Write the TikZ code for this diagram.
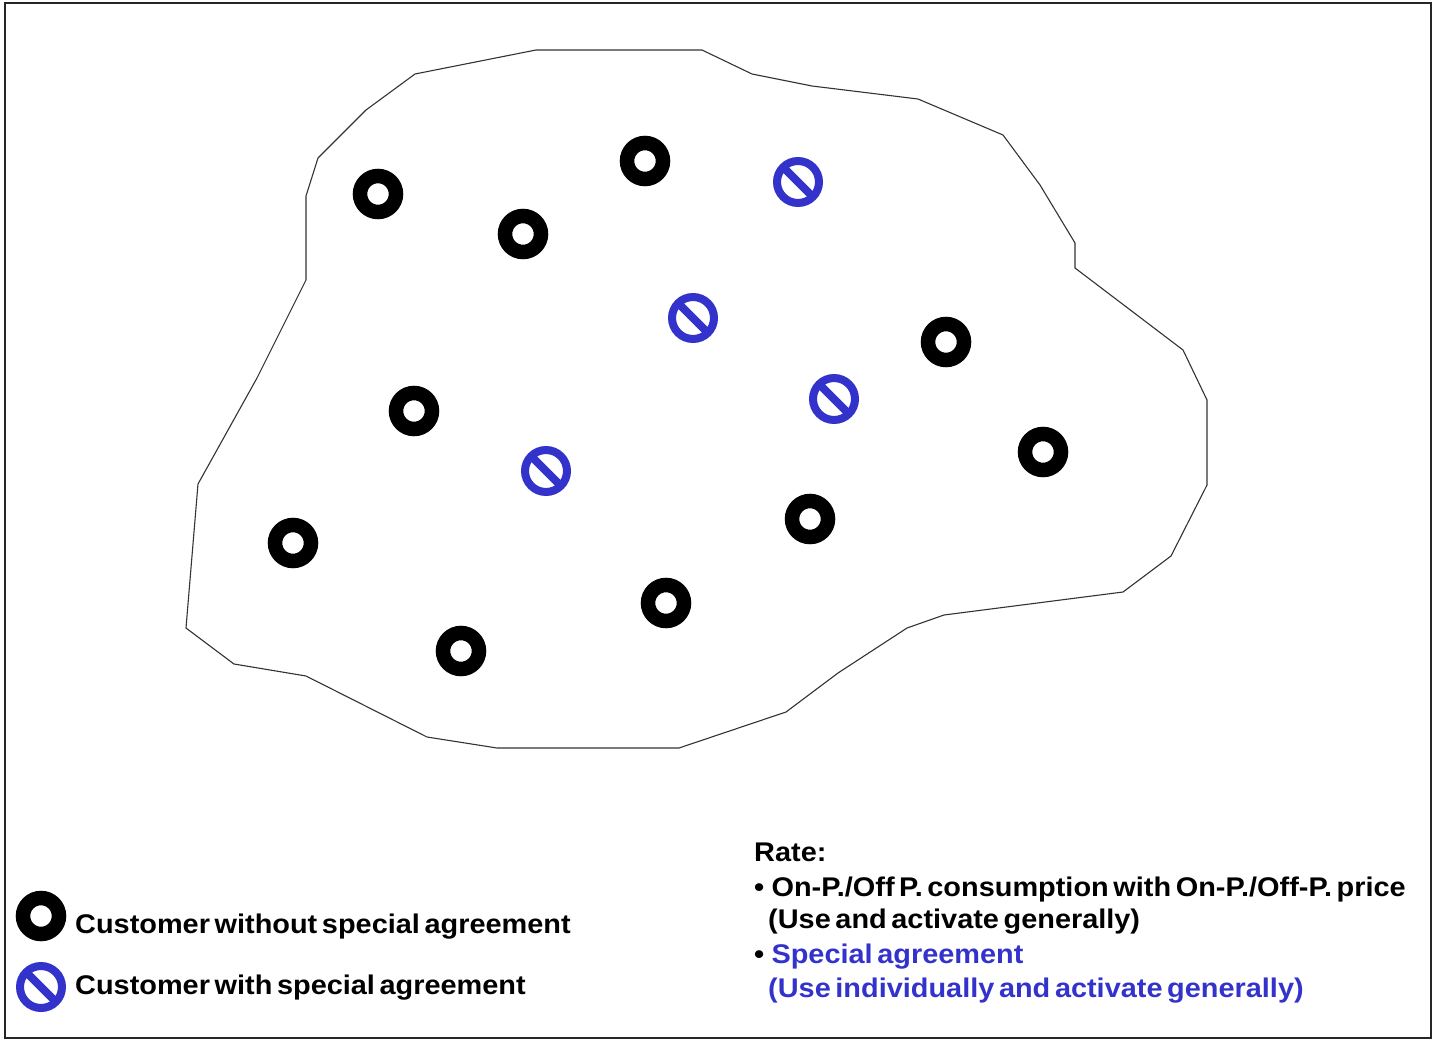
\documentclass[tikz,border=0pt]{standalone}
\usepackage{fontspec}
\setmainfont{Liberation Sans}
\definecolor{agblue}{RGB}{51,51,204}
\newcommand{\hsq}[1]{\scalebox{1.07}[1]{\spaceskip=0.16em\relax #1}}
\newcommand{\bul}{\textbullet\hspace{0.25em}}
\begin{document}
\begin{tikzpicture}[x=1pt,y=-1pt,
  plain/.style={circle,draw=black,line width=14.5pt,minimum size=36pt,inner sep=0pt},
  special/.style={circle,draw=agblue,line width=8pt,minimum size=42pt,inner sep=0pt,
    path picture={\draw[agblue,line width=8pt] (path picture bounding box.north west) -- (path picture bounding box.south east);}},
  lbl/.style={anchor=base west,inner sep=0pt,font=\bfseries\fontsize{27}{30}\selectfont},
  txt/.style={anchor=base west,inner sep=0pt,font=\bfseries\fontsize{27}{30}\selectfont}]
\useasboundingbox (0,0) rectangle (1439,1041);
\draw[line width=2pt,black!85] (5,3) rectangle (1431,1038);
\draw[line width=1.1pt,black!80] (536,50) -- (702,50) -- (752,74) -- (812,86) -- (918,99) -- (1003,135) -- (1040,185) -- (1075,243) -- (1075,268) -- (1183,350) -- (1207,400) -- (1207,485) -- (1171,556) -- (1123,592) -- (944,615) -- (907,628) -- (838,673) -- (786,712) -- (679,748) -- (497,748) -- (427,737) -- (306,676) -- (234,664) -- (186,628) -- (198,484) -- (257,378) -- (306,280) -- (306,196) -- (318,158) -- (366,110) -- (415,74) -- cycle;
\node[plain] (p1) at (378,194) {};
\node[plain] (p2) at (523,234) {};
\node[plain] (p3) at (645,161) {};
\node[plain] (p4) at (946,342) {};
\node[plain] (p5) at (414,411) {};
\node[plain] (p6) at (1043,452) {};
\node[plain] (p7) at (810,519) {};
\node[plain] (p8) at (293,543) {};
\node[plain] (p9) at (666,603) {};
\node[plain] (p10) at (461,651) {};
\node[special] (s1) at (798,182) {};
\node[special] (s2) at (693,318) {};
\node[special] (s3) at (834,399) {};
\node[special] (s4) at (546,471) {};
\node[plain] (lp) at (41,916) {};
\node[special] (ls) at (41,987) {};
\node[lbl] (t1) at (75,933) {\hsq{Customer without special agreement}};
\node[lbl] (t2) at (75,994) {\hsq{Customer with special agreement}};
\node[txt] (r0) at (754,861) {\hsq{Rate:}};
\node[txt] (r1) at (754,896) {\hsq{\bul On-P./Off P. consumption with On-P./Off-P. price}};
\node[txt] (r2) at (768,928) {\hsq{(Use and activate generally)}};
\node[txt] (r3) at (754,963) {\hsq{\bul\textcolor{agblue}{Special agreement}}};
\node[txt,text=agblue] (r4) at (768,997) {\hsq{(Use individually and activate generally)}};
\end{tikzpicture}
\end{document}
